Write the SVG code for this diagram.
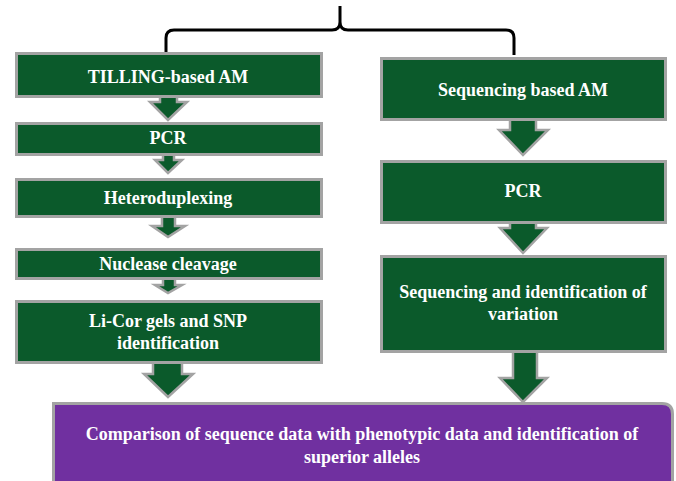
<svg xmlns="http://www.w3.org/2000/svg" width="676" height="481" viewBox="0 0 676 481">
<style>
.box{fill:#0b5a2b;stroke:#a3a3a3;stroke-width:3}
.arr{fill:#0b5a2b;stroke:#a3a3a3;stroke-width:2.5;stroke-linejoin:miter}
.pbox{fill:#7030a0;stroke:#a3a3a3;stroke-width:3}
.t{font-weight:bold;font-size:18px;fill:#ffffff;text-anchor:middle}
.brace{fill:none;stroke:#000000;stroke-width:3}
</style>
<rect width="676" height="481" fill="#ffffff"/>
<g id="brace">
<path class="brace" d="M166,52 V38 Q166,30 174,30 H332 Q340,30 340,22 V6 M340,22 Q340,30 348,30 H506 Q514,30 514,38 V55"/>
</g>
<g id="connectors">
<path class="arr" d="M160,96 H177 V102 H187 L168,120 L150,102 H160 Z"/>
<path class="arr" d="M163,154 H174 V160 H182 L168,173 L155,160 H163 Z"/>
<path class="arr" d="M162,216 H175 V226 H185 L168,237 L152,226 H162 Z"/>
<path class="arr" d="M163,278 H175 V285 H182 L168,293 L155,285 H163 Z"/>
<path class="arr" d="M153,362 H182 V374 H193 L168,397 L144,374 H153 Z"/>
<path class="arr" d="M510,119 H536 V130 H548 L523,155 L499,130 H510 Z"/>
<path class="arr" d="M510,222 H536 V228 H547 L523,253 L500,228 H510 Z"/>
<path class="arr" d="M513,351 H537 V378 H547 L523,402 L500,378 H513 Z"/>
</g>
<g font-family="'Liberation Serif', 'DejaVu Serif', serif">
<g id="n1"><rect class="box" x="16.5" y="53.5" width="305" height="43"/><text class="t" x="168" y="83">TILLING-based AM</text></g>
<g id="n2"><rect class="box" x="16.5" y="123.5" width="305" height="31"/><text class="t" x="168" y="144">PCR</text></g>
<g id="n3"><rect class="box" x="16.5" y="179.5" width="305" height="37"/><text class="t" x="168" y="204">Heteroduplexing</text></g>
<g id="n4"><rect class="box" x="16.5" y="249.5" width="305" height="29"/><text class="t" x="168" y="270">Nuclease cleavage</text></g>
<g id="n5"><rect class="box" x="16.5" y="301.5" width="305" height="61"/><text class="t" x="168" y="327">Li-Cor gels and SNP</text><text class="t" x="168" y="349">identification</text></g>
<g id="r1"><rect class="box" x="381.5" y="58.5" width="284" height="61"/><text class="t" x="523" y="96">Sequencing based AM</text></g>
<g id="r2"><rect class="box" x="381.5" y="161.5" width="284" height="61"/><text class="t" x="523" y="197">PCR</text></g>
<g id="r3"><rect class="box" x="381.5" y="256.5" width="284" height="95"/><text class="t" x="523" y="298">Sequencing and identification of</text><text class="t" x="523" y="320">variation</text></g>
<g id="p1"><path class="pbox" d="M53.5,490 V403.5 H662 Q672.5,403.5 672.5,414 V490"/><text class="t" x="362" y="440">Comparison of sequence data with phenotypic data and identification of</text><text class="t" x="362" y="463">superior alleles</text></g>
</g>
</svg>
